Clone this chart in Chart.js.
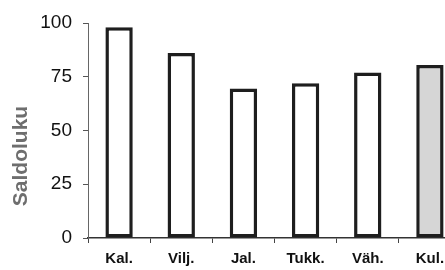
<!DOCTYPE html>
<html>
<head>
<meta charset="utf-8">
<script src="https://cdn.jsdelivr.net/npm/chart.js@4/dist/chart.umd.min.js"></script>
<style>
  html, body { margin: 0; padding: 0; background: #fff; overflow: hidden; }
  #wrap { width: 445px; height: 270px; overflow: hidden; position: relative; }
  #c { position: absolute; left: 0; top: 0; }
</style>
</head>
<body>
<div id="wrap"><canvas id="c" width="462" height="270" style="width:462px;height:270px"></canvas></div>
<script>
const categories = ["Kal.", "Vilj.", "Jal.", "Tukk.", "Väh.", "Kul."];
const values = [98, 86, 69.5, 72, 77, 80.5];
const yTicks = [0, 25, 50, 75, 100];
const yTitle = "Saldoluku";

const fills = categories.map((c, i) => i === categories.length - 1 ? "#d6d6d6" : "#ffffff");

const titlePlugin = {
  id: "sideTitle",
  afterDraw(chart) {
    const ctx = chart.ctx;
    ctx.save();
    ctx.translate(21, 156);
    ctx.rotate(-Math.PI / 2);
    ctx.font = "bold 21px 'Liberation Sans', Arial, sans-serif";
    ctx.fillStyle = "#6e6e6e";
    ctx.textAlign = "center";
    ctx.textBaseline = "middle";
    ctx.fillText(yTitle, 0, 0);
    ctx.restore();
  }
};

new Chart(document.getElementById("c"), {
  type: "bar",
  data: {
    labels: categories,
    datasets: [{
      data: values,
      backgroundColor: fills,
      borderColor: "#1e1e1e",
      borderWidth: 3.5,
      borderSkipped: false,
      categoryPercentage: 1.0,
      barPercentage: 0.44
    }]
  },
  options: {
    responsive: false,
    animation: false,
    devicePixelRatio: 1,
    layout: { padding: { top: 23, left: 0, right: 1, bottom: 0 } },
    plugins: { legend: { display: false }, tooltip: { enabled: false } },
    scales: {
      x: {
        afterFit(s) { s.height = 32; },
        grid: { display: true, drawOnChartArea: false, offset: true, tickLength: 5, color: "#444", lineWidth: 1 },
        border: { display: true, color: "#333", width: 1.5 },
        ticks: { color: "#111", font: { family: "'Liberation Sans', Arial, sans-serif", size: 15, weight: "bold" }, padding: 7, maxRotation: 0 }
      },
      y: {
        min: 0, max: 100,
        afterFit(s) { s.width = 88; },
        afterBuildTicks(s) { s.ticks = yTicks.map(v => ({ value: v })); },
        grid: { display: true, drawOnChartArea: false, tickLength: 5, color: "#555", lineWidth: 1 },
        border: { display: true, color: "#666", width: 1 },
        ticks: { color: "#111", font: { family: "'Liberation Sans', Arial, sans-serif", size: 19 }, padding: 11 }
      }
    }
  },
  plugins: [titlePlugin]
});
</script>
</body>
</html>
